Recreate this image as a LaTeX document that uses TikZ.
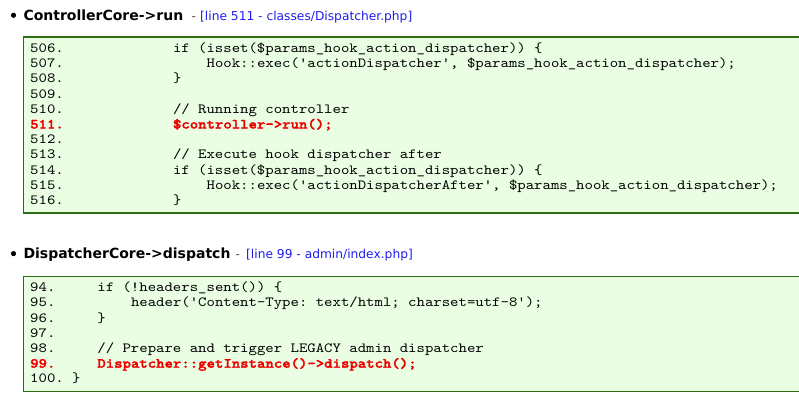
\documentclass[tikz,border=0pt]{standalone}
\usepackage{fontspec}
\setmainfont{DejaVu Sans}
\setmonofont{lmmono10-regular.otf}[FakeStretch=1.143,BoldFont=lmmonolt10-bold.otf,BoldFeatures={FakeBold=2}]
\definecolor{boxgreen}{RGB}{45,112,20}
\definecolor{boxfill}{RGB}{233,254,226}
\definecolor{hilite}{RGB}{238,0,0}
\definecolor{linkblue}{RGB}{30,30,235}
\tikzset{
  txt/.style={anchor=base west,inner sep=0pt},
  code/.style={txt,font=\fontsize{14}{15}\selectfont\ttfamily},
  hot/.style={txt,font=\fontsize{14}{15}\selectfont\ttfamily\bfseries,text=hilite},
  title/.style={txt,font=\fontsize{14}{16}\selectfont\bfseries},
  sepmark/.style={txt,font=\fontsize{12.25}{14}\selectfont,text=black!70},
  link/.style={txt,font=\fontsize{12.25}{14}\selectfont,text=linkblue},
  codebox/.style={draw=boxgreen,fill=boxfill,line width=1.2pt}
}
\begin{document}
\begin{tikzpicture}[x=1pt,y=-1pt]
\useasboundingbox (0,0) rectangle (799,413);

% first frame
\fill (13.5,15.3) circle (2.6);
\node[title] (run) at (23.3,20) {ControllerCore->run};
\node[sepmark] (runsep) at (191.5,20) {-};
\node[link] (runref) at (200,20) {[line 511 - classes/Dispatcher.php]};
\draw[codebox] (23.3,37) rectangle (810,213);
\foreach \n in {506,507,508,509,510,512,513,514,515,516}
  \node[code] (n\n) at (30,{52.5+15.2*(\n-506)}) {\n.};
\node[hot] (n511) at (30,128.5) {511.};
\node[code] (c506) at (172.8,52.5) {if (isset(\$params\_hook\_action\_dispatcher)) \{};
\node[code] (c507) at (206.4,67.7) {Hook::exec('actionDispatcher', \$params\_hook\_action\_dispatcher);};
\node[code] (c508) at (172.8,82.9) {\}};
\node[code] (c510) at (172.8,113.3) {// Running controller};
\node[hot] (c511) at (172.8,128.5) {\$controller->run();};
\node[code] (c513) at (172.8,158.9) {// Execute hook dispatcher after};
\node[code] (c514) at (172.8,174.1) {if (isset(\$params\_hook\_action\_dispatcher)) \{};
\node[code] (c515) at (206.4,189.3) {Hook::exec('actionDispatcherAfter', \$params\_hook\_action\_dispatcher);};
\node[code] (c516) at (172.8,204.5) {\}};

% second frame
\fill (13.5,253.6) circle (2.6);
\node[title] (disp) at (23.3,258.3) {DispatcherCore->dispatch};
\node[sepmark] (dispsep) at (235.5,258.3) {-};
\node[link] (dispref) at (246,258.3) {[line 99 - admin/index.php]};
\draw[codebox] (23.3,276.7) rectangle (810,391.7);
\foreach \n in {94,95,96,97,98,100}
  \node[code] (n\n) at (30,{291.7+15.2*(\n-94)}) {\n.};
\node[hot] (n99) at (30,367.7) {99.};
\node[code] (c94) at (97.2,291.7) {if (!headers\_sent()) \{};
\node[code] (c95) at (130.8,306.9) {header('Content-Type: text/html; charset=utf-8');};
\node[code] (c96) at (97.2,322.1) {\}};
\node[code] (c98) at (97.2,352.5) {// Prepare and trigger LEGACY admin dispatcher};
\node[hot] (c99) at (97.2,367.7) {Dispatcher::getInstance()->dispatch();};
\node[code] (c100) at (72,382.9) {\}};
\end{tikzpicture}
\end{document}
